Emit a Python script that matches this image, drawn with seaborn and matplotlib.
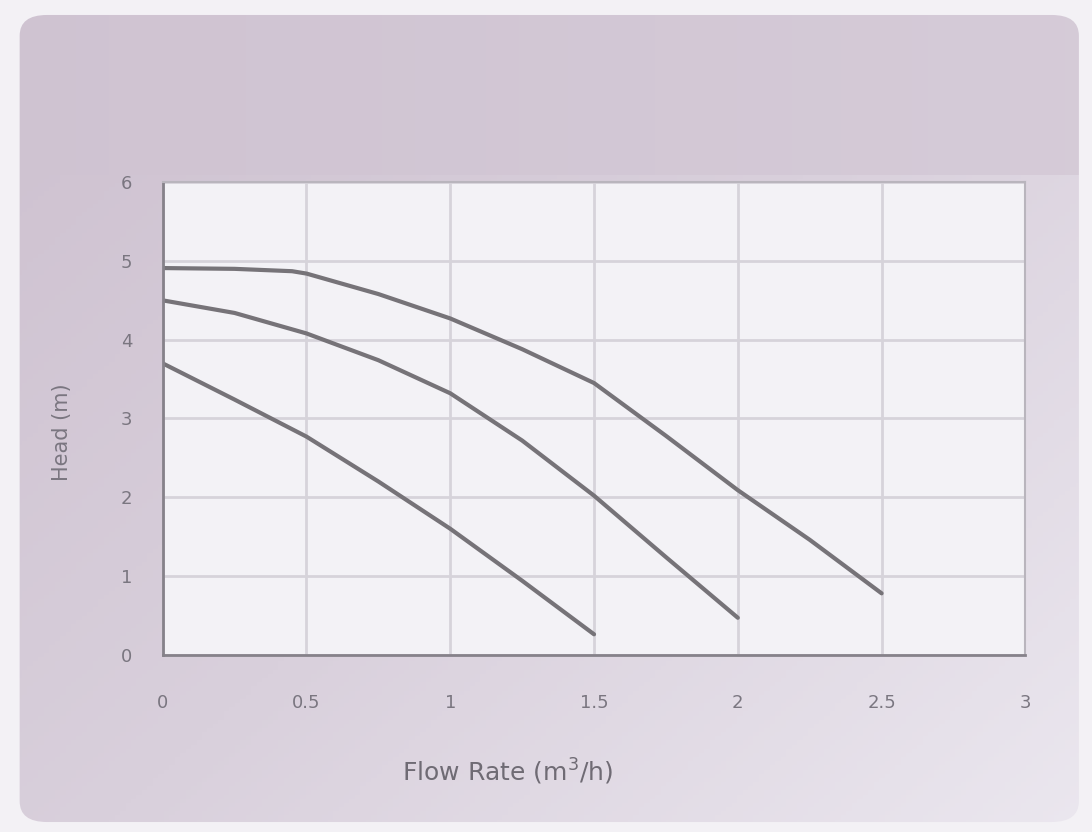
import numpy as np
import pandas as pd
import matplotlib.pyplot as plt
import seaborn as sns
from matplotlib.patches import FancyBboxPatch
from matplotlib.colors import LinearSegmentedColormap

# Pump curves
flow_low = [0, 0.25, 0.5, 0.75, 1.0, 1.25, 1.5]
head_low = [3.70, 3.24, 2.77, 2.20, 1.60, 0.94, 0.26]

flow_mid = [0, 0.25, 0.5, 0.75, 1.0, 1.25, 1.5, 1.75, 2.0]
head_mid = [4.50, 4.34, 4.08, 3.74, 3.32, 2.72, 2.02, 1.24, 0.47]

flow_high = [0, 0.25, 0.45, 0.5, 0.75, 1.0, 1.25, 1.5, 1.75, 2.0, 2.25, 2.5]
head_high = [4.91, 4.90, 4.87, 4.84, 4.58, 4.27, 3.88, 3.45, 2.78, 2.09, 1.46, 0.78]

x_ticks = [0, 0.5, 1, 1.5, 2, 2.5, 3]
x_tick_labels = ["0", "0.5", "1", "1.5", "2", "2.5", "3"]
y_ticks = [0, 1, 2, 3, 4, 5, 6]

df = pd.concat([
    pd.DataFrame({"flow": flow_low, "head": head_low, "curve": "low"}),
    pd.DataFrame({"flow": flow_mid, "head": head_mid, "curve": "mid"}),
    pd.DataFrame({"flow": flow_high, "head": head_high, "curve": "high"}),
])

sns.set_theme(style="whitegrid")

fig = plt.figure(figsize=(10.92, 8.32), dpi=100, facecolor="#f3f1f5")

# card background drawn in its own axes behind the chart
bg = fig.add_axes([0, 0, 1, 1], zorder=-5)
bg.set_xlim(0, 1)
bg.set_ylim(0, 1)
bg.axis("off")
card = FancyBboxPatch((0.018, 0.012), 0.97, 0.97, boxstyle="round,pad=0,rounding_size=0.025",
                      facecolor="none", edgecolor="none")
bg.add_patch(card)
gx, gy = np.meshgrid(np.linspace(0, 1, 200), np.linspace(0, 1, 200))
shade = np.clip(0.55 * gx + 0.45 * (1 - gy), 0, 1)
shade[gy > 0.79] = 0.1 + 0.25 * gx[gy > 0.79]
card_cmap = LinearSegmentedColormap.from_list("card", ["#cdc0cf", "#d9d0dc", "#ebe7ef"])
img = bg.imshow(shade, extent=[0, 1, 0, 1], origin="lower", cmap=card_cmap,
                aspect="auto", vmin=0, vmax=1)
img.set_clip_path(card)

ax = fig.add_axes([0.149, 0.213, 0.790, 0.568], zorder=1)
ax.set_facecolor("#f3f2f6")

sns.lineplot(data=df, x="flow", y="head", hue="curve", sort=False,
             palette=["#767378", "#767378", "#767378"], linewidth=3, legend=False, ax=ax)

ax.set_xlim(0, 3)
ax.set_ylim(0, 6)
ax.set_xticks(x_ticks)
ax.set_xticklabels(x_tick_labels)
ax.set_yticks(y_ticks)
ax.grid(True, color="#d6d3da", linewidth=2)
for side in ["top", "right"]:
    ax.spines[side].set_color("#b9b5bd")
    ax.spines[side].set_linewidth(1.5)
for side in ["left", "bottom"]:
    ax.spines[side].set_color("#86828a")
    ax.spines[side].set_linewidth(2)

ax.tick_params(axis="both", labelsize=13, labelcolor="#7a7680", length=0)
ax.tick_params(axis="x", pad=28)
ax.tick_params(axis="y", pad=22)
ax.set_xlabel("Flow Rate (m$^3$/h)", fontsize=18, color="#6f6b74")
ax.xaxis.set_label_coords(0.40, -0.215)
ax.set_ylabel("Head (m)", fontsize=15, color="#7a7680")
ax.yaxis.set_label_coords(-0.105, 0.47)

plt.savefig("out.png", dpi=100, facecolor=fig.get_facecolor())
